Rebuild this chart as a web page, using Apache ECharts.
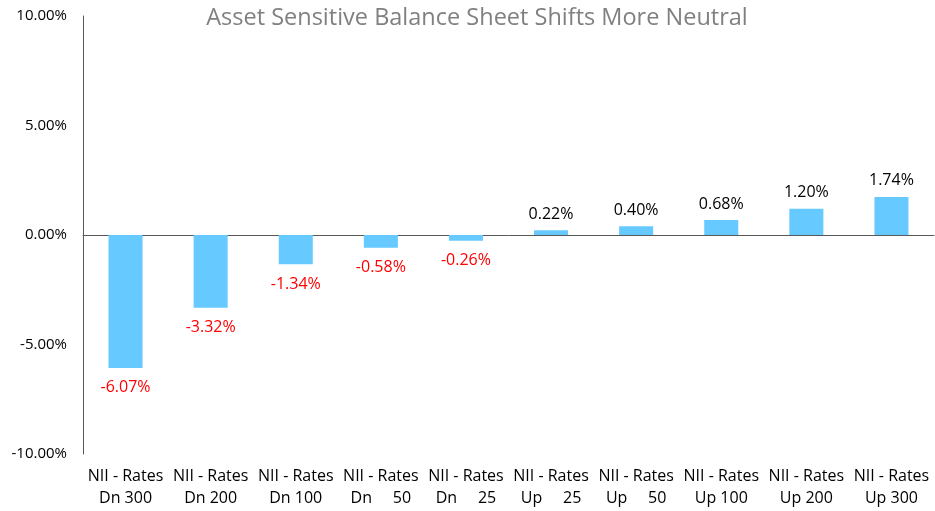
<!DOCTYPE html>
<html><head><meta charset="utf-8">
<script src="https://cdn.jsdelivr.net/npm/echarts@6/dist/echarts.min.js"></script>
<style>html,body{margin:0;padding:0;background:#fff}#c{width:935px;height:511px}</style>
</head><body><div id="c"></div>
<script>
const titleText = 'Asset Sensitive Balance Sheet Shifts More Neutral';
const categories = ['NII - Rates\nDn 300','NII - Rates\nDn 200','NII - Rates\nDn 100','NII - Rates\nDn     50','NII - Rates\nDn     25','NII - Rates\nUp     25','NII - Rates\nUp     50','NII - Rates\nUp 100','NII - Rates\nUp 200','NII - Rates\nUp 300'];
const values = [-6.07, -3.32, -1.34, -0.58, -0.26, 0.22, 0.40, 0.68, 1.20, 1.74];
const yMin = -10, yMax = 10, yStep = 5;

const font = '"Open Sans", "Liberation Sans", sans-serif';
const chart = echarts.init(document.getElementById('c'), null, {renderer:'canvas'});
chart.setOption({
  animation: false,
  title: {text: titleText, left: 472, top: 1, textAlign: 'center',
    textStyle: {color:'#808080', fontSize: 23.5, fontWeight: 'normal', fontFamily: font}},
  grid: {left: 83, right: 1, top: 16, bottom: 57, containLabel: false, outerBoundsMode: 'none'},
  xAxis: [{type:'category', data: categories,
    axisLine: {onZero: true, lineStyle:{color:'#595959', width:1}},
    axisTick: {show:false},
    axisLabel: {show:false}
  },{type:'category', data: categories, position:'bottom',
    axisLine: {show:false, onZero:false},
    axisTick: {show:false},
    axisLabel: {interval:0, color:'#000', fontSize: 16, fontFamily: font, lineHeight: 22, margin: 11}
  }],
  yAxis: {type:'value', min: yMin, max: yMax, interval: yStep,
    axisLine: {show:true, lineStyle:{color:'#595959'}},
    axisTick: {show:false},
    splitLine: {show:false},
    axisLabel: {color:'#000', fontSize: 15, fontFamily: font, margin: 16,
      formatter: v => v.toFixed(2) + '%'}
  },
  series: [{
    type:'bar', xAxisIndex: 0, data: values.map(v => ({value: v,
      label: {position: v < 0 ? 'bottom' : 'top', color: v < 0 ? '#ff0000' : '#000',
        distance: v < 0 ? 12 : 8}})),
    barWidth: '40%',
    itemStyle: {color:'#66c9ff'},
    label: {show:true, fontSize: 16, fontFamily: font,
      formatter: p => p.value.toFixed(2) + '%'}
  }]
});
</script></body></html>
